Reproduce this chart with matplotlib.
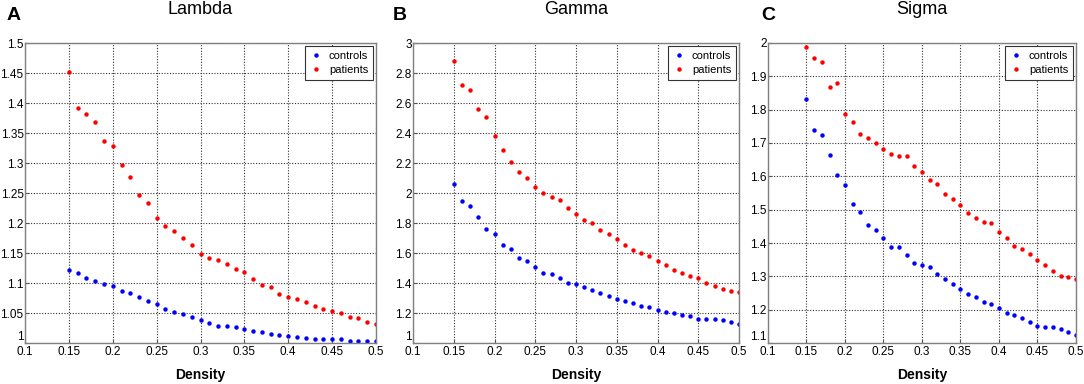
import matplotlib
matplotlib.use("Agg")
import matplotlib.pyplot as plt
from matplotlib.ticker import FuncFormatter

plt.rcParams['font.family'] = ['Liberation Sans', 'DejaVu Sans']

density = [0.15 + 0.01 * i for i in range(36)]

lambda_controls = [1.122, 1.117, 1.109, 1.103, 1.098, 1.095, 1.086, 1.083, 1.076, 1.070,
                   1.065, 1.056, 1.052, 1.049, 1.043, 1.039, 1.034, 1.029, 1.028, 1.026,
                   1.023, 1.020, 1.019, 1.015, 1.013, 1.012, 1.010, 1.008, 1.007, 1.007,
                   1.007, 1.006, 1.003, 1.003, 1.003, 1.003]
lambda_patients = [1.451, 1.392, 1.382, 1.369, 1.336, 1.328, 1.296, 1.277, 1.247, 1.234,
                   1.209, 1.195, 1.187, 1.175, 1.164, 1.149, 1.142, 1.139, 1.132, 1.124,
                   1.118, 1.107, 1.096, 1.093, 1.082, 1.077, 1.074, 1.069, 1.061, 1.057,
                   1.054, 1.050, 1.044, 1.041, 1.035, 1.031]

gamma_controls = [2.059, 1.946, 1.915, 1.841, 1.763, 1.725, 1.652, 1.625, 1.567, 1.545,
                  1.510, 1.467, 1.461, 1.436, 1.400, 1.392, 1.376, 1.352, 1.334, 1.314,
                  1.294, 1.280, 1.269, 1.245, 1.238, 1.222, 1.207, 1.198, 1.189, 1.178,
                  1.162, 1.158, 1.158, 1.151, 1.140, 1.129]
gamma_patients = [2.882, 2.720, 2.686, 2.559, 2.510, 2.377, 2.286, 2.210, 2.143, 2.097,
                  2.037, 1.997, 1.972, 1.954, 1.901, 1.859, 1.819, 1.799, 1.752, 1.728,
                  1.696, 1.652, 1.623, 1.601, 1.583, 1.550, 1.523, 1.489, 1.469, 1.449,
                  1.432, 1.400, 1.378, 1.363, 1.349, 1.338]

sigma_controls = [1.833, 1.740, 1.725, 1.664, 1.603, 1.575, 1.516, 1.494, 1.453, 1.438,
                  1.415, 1.387, 1.387, 1.363, 1.340, 1.334, 1.327, 1.306, 1.293, 1.276,
                  1.261, 1.248, 1.239, 1.222, 1.218, 1.206, 1.189, 1.183, 1.174, 1.162,
                  1.152, 1.149, 1.149, 1.143, 1.133, 1.124]
sigma_patients = [1.987, 1.956, 1.944, 1.868, 1.879, 1.788, 1.764, 1.727, 1.716, 1.699,
                  1.682, 1.667, 1.661, 1.662, 1.630, 1.614, 1.590, 1.576, 1.546, 1.533,
                  1.515, 1.490, 1.476, 1.462, 1.459, 1.433, 1.415, 1.390, 1.382, 1.368,
                  1.350, 1.333, 1.317, 1.301, 1.298, 1.291]

x_ticks = [0.1, 0.15, 0.2, 0.25, 0.3, 0.35, 0.4, 0.45, 0.5]
lambda_ticks = [1, 1.05, 1.1, 1.15, 1.2, 1.25, 1.3, 1.35, 1.4, 1.45, 1.5]
gamma_ticks = [1, 1.2, 1.4, 1.6, 1.8, 2, 2.2, 2.4, 2.6, 2.8, 3]
sigma_ticks = [1.1, 1.2, 1.3, 1.4, 1.5, 1.6, 1.7, 1.8, 1.9, 2]

W, H = 1084, 384
fig = plt.figure(figsize=(W / 100, H / 100), dpi=100)

panels = [
    ("A", "Lambda", lambda_controls, lambda_patients, lambda_ticks, (25, 376)),
    ("B", "Gamma", gamma_controls, gamma_patients, gamma_ticks, (413, 739)),
    ("C", "Sigma", sigma_controls, sigma_patients, sigma_ticks, (768, 1076)),
]
letter_x = [14, 400, 768]
top, bottom = 43, 343

fmt = FuncFormatter(lambda v, p: f"{v:g}")

for (letter, name, ctrl, pat, yt, (l, r)), lx in zip(panels, letter_x):
    ax = fig.add_axes([l / W, (H - bottom) / H, (r - l) / W, (bottom - top) / H])
    ax.plot(density, ctrl, 'o', color='#0000ff', markersize=3.2, markeredgewidth=0,
            label='controls')
    ax.plot(density, pat, 'o', color='#ff0000', markersize=3.2, markeredgewidth=0,
            label='patients')
    ax.set_xlim(0.1, 0.5)
    ax.set_ylim(yt[0], yt[-1])
    ax.set_xticks(x_ticks)
    ax.set_yticks(yt)
    ax.xaxis.set_major_formatter(fmt)
    ax.yaxis.set_major_formatter(fmt)
    ax.tick_params(direction='in', length=3, labelsize=8.5, pad=1, color='#555555')
    ax.tick_params(axis='x', pad=2)
    # lowest y label sits just above the corner, as in the original
    fig.canvas.draw()
    ax.get_yticklabels()[0].set_verticalalignment('bottom')
    ax.grid(True, linestyle=(0, (1, 1.5)), color='#333333', linewidth=0.8)
    for s in ax.spines.values():
        s.set_color('#808080')
        s.set_linewidth(1.0)
    leg = ax.legend(loc='upper right', fontsize=8, fancybox=False, framealpha=1,
                    edgecolor='#333333', handletextpad=0.6, borderpad=0.4,
                    handlelength=1.2, borderaxespad=0.3, labelspacing=0.4)
    leg.get_frame().set_linewidth(0.8)
    cx = (l + r) / 2 / W
    fig.text(cx, 1 - 9 / H, name, ha='center', va='center', fontsize=13)
    fig.text(lx / W, 1 - 15 / H, letter, ha='center', va='center', fontsize=14,
             fontweight='bold')
    fig.text(cx, 9 / H, "Density", ha='center', va='center', fontsize=10,
             fontweight='bold')

fig.savefig("out.png", dpi=100)
